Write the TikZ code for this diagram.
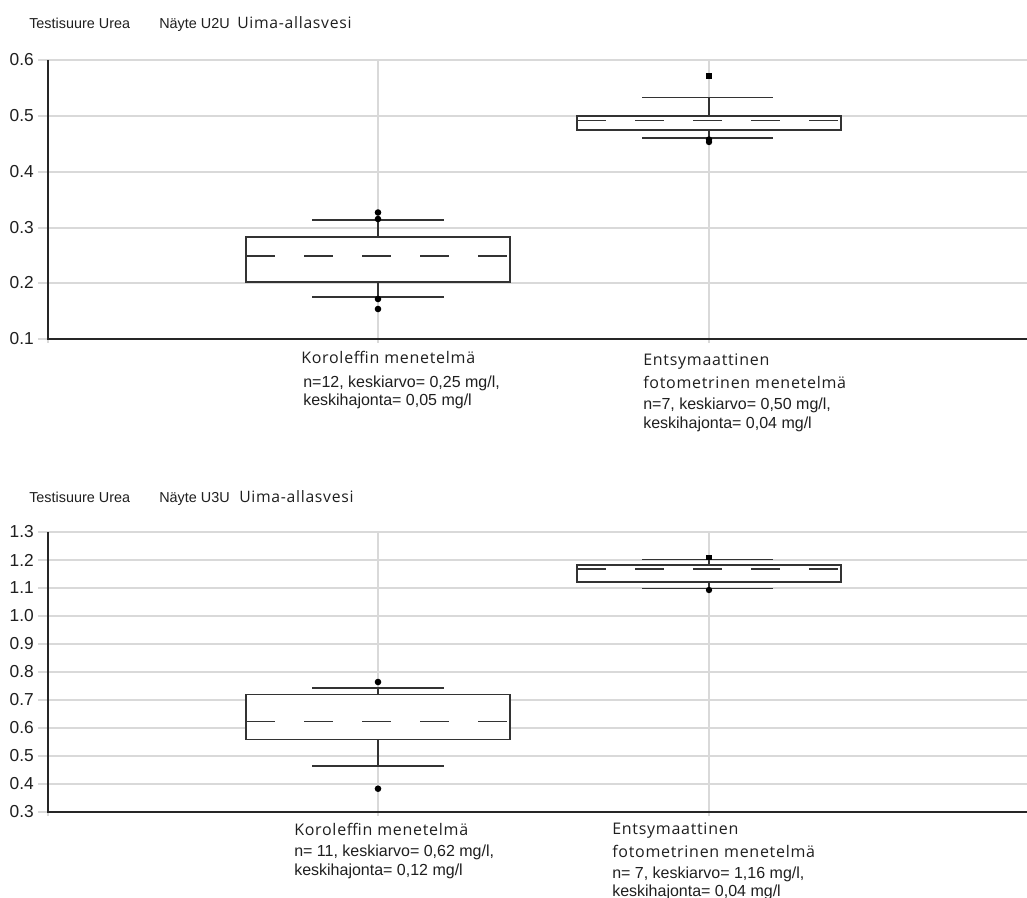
\documentclass[tikz,border=0pt]{standalone}
\usepackage{fontspec}
\setmainfont{Liberation Sans}
\newfontfamily\arialf{Liberation Sans}
\newfontfamily\segoef[LetterSpace=4.5]{Open Sans}
\begin{document}
\begin{tikzpicture}[x=0.75pt,y=-0.75pt,
  grid/.style={draw=black!15,line width=1.1pt},
  axisline/.style={draw=black!85,line width=1.1pt},
  boxline/.style={draw=black!80,line width=1.1pt},
  ticklab/.style={anchor=east,inner sep=0pt,font=\arialf\fontsize{13pt}{13pt}\selectfont,text=black!88},
  titlesmall/.style={anchor=base west,inner sep=0pt,font=\arialf\fontsize{10.8pt}{10.8pt}\selectfont,text=black!88},
  titlebig/.style={anchor=base west,inner sep=0pt,font=\segoef\fontsize{11.8pt}{11.8pt}\selectfont,text=black!88},
  catlab/.style={anchor=base west,inner sep=0pt,font=\segoef\fontsize{12pt}{12pt}\selectfont,text=black!88},
  statlab/.style={anchor=base west,inner sep=0pt,font=\arialf\fontsize{12pt}{12pt}\selectfont,text=black!88},
  med/.style={draw=black!80,line width=1.1pt,dash pattern=on 21.75pt off 21.75pt},
  outl/.style={fill=black,draw=none},
]
\useasboundingbox (0,0) rectangle (1027,897);
\fill[white] (0,0) rectangle (1027,897);

%%%%%%%%%%%% TOP CHART %%%%%%%%%%%%
\node[titlesmall] (t1a) at (29,28) {Testisuure Urea};
\node[titlesmall] (t1b) at (159,28) {Näyte U2U};
\node[titlebig] (t1c) at (237,28) {Uima-allasvesi};

% horizontal grid
\foreach \y/\l in {60/0.6,116/0.5,172/0.4,228/0.3,283/0.2,339/0.1}{
  \draw[grid] (38,\y) -- (1027,\y);
  \node[ticklab] at (34,\y) {\l};
}
% vertical grid
\draw[grid] (48,339) -- (48,343);
\draw[grid] (378,60) -- (378,343);
\draw[grid] (709,60) -- (709,343);
% axes
\draw[axisline] (48,60) -- (48,339) -- (1027,339);

% box 1 Koroleffin
\draw[boxline] (378,237) -- (378,220);
\draw[boxline] (378,282) -- (378,297);
\draw[boxline] (312,220) -- (444,220);
\draw[boxline] (312,297) -- (444,297);
\draw[boxline,fill=white] (246,237) rectangle (510,282);
\draw[med] (246,256) -- (510,256);
\fill[outl] (378,212.5) circle (3.3);
\fill[outl] (378,219) circle (3.3);
\fill[outl] (378,299) circle (3.3);
\fill[outl] (378,309) circle (3.3);

% box 2 Entsymaattinen
\draw[boxline] (709,116) -- (709,97.5);
\draw[boxline] (709,130) -- (709,138);
\draw[boxline] (642,97.5) -- (773,97.5);
\draw[boxline] (642,138) -- (773,138);
\draw[boxline,fill=white] (577,116) rectangle (841,130);
\draw[med] (577,120.7) -- (841,120.7);
\fill[outl] (706.2,73) rectangle (711.8,78.6);
\fill[outl] (709,139.5) circle (3.2);
\fill[outl] (709,142) circle (3.2);

% labels
\node[catlab] (c1) at (301,363) {Koroleffin menetelmä};
\node[statlab] (s1a) at (303,387) {n=12, keskiarvo= 0,25 mg/l,};
\node[statlab] (s1b) at (303,405.5) {keskihajonta= 0,05 mg/l};
\node[catlab] (c2a) at (643,365) {Entsymaattinen};
\node[catlab] (c2b) at (643,388) {fotometrinen menetelmä};
\node[statlab] (s2a) at (643,409) {n=7, keskiarvo= 0,50 mg/l,};
\node[statlab] (s2b) at (643,428) {keskihajonta= 0,04 mg/l};

%%%%%%%%%%%% BOTTOM CHART %%%%%%%%%%%%
\node[titlesmall] (t2a) at (29,502) {Testisuure Urea};
\node[titlesmall] (t2b) at (159,502) {Näyte U3U};
\node[titlebig] (t2c) at (239,502) {Uima-allasvesi};

\foreach \i/\l in {0/1.3,1/1.2,2/1.1,3/1.0,4/0.9,5/0.8,6/0.7,7/0.6,8/0.5,9/0.4,10/0.3}{
  \pgfmathsetmacro{\yy}{532+28*\i}
  \draw[grid] (38,\yy) -- (1027,\yy);
  \node[ticklab] at (34,\yy) {\l};
}
\draw[grid] (48,812) -- (48,816);
\draw[grid] (378,532) -- (378,816);
\draw[grid] (709,532) -- (709,816);
\draw[axisline] (48,532) -- (48,812) -- (1027,812);

% box 1 Koroleffin
\draw[boxline] (378,694.7) -- (378,688);
\draw[boxline] (378,739.7) -- (378,766);
\draw[boxline] (312,688) -- (444,688);
\draw[boxline] (312,766) -- (444,766);
\draw[boxline,fill=white] (246,694.7) rectangle (510,739.7);
\draw[med] (246,721.7) -- (510,721.7);
\fill[outl] (378,682) circle (3.3);
\fill[outl] (378,788.7) circle (3.3);

% box 2 Entsymaattinen
\draw[boxline] (709,565) -- (709,559.7);
\draw[boxline] (709,582) -- (709,588.7);
\draw[boxline] (642,559.7) -- (773,559.7);
\draw[boxline] (642,588.7) -- (773,588.7);
\draw[boxline,fill=white] (577,565) rectangle (841,582);
\draw[med] (577,569) -- (841,569);
\fill[outl] (706.2,554.5) rectangle (711.8,560.1);
\fill[outl] (709,590) circle (3.2);

\node[catlab] (c3) at (294,835) {Koroleffin menetelmä};
\node[statlab] (s3a) at (294,856) {n= 11, keskiarvo= 0,62 mg/l,};
\node[statlab] (s3b) at (294,875) {keskihajonta= 0,12 mg/l};
\node[catlab] (c4a) at (612,834) {Entsymaattinen};
\node[catlab] (c4b) at (612,857) {fotometrinen menetelmä};
\node[statlab] (s4a) at (612,878) {n= 7, keskiarvo= 1,16 mg/l,};
\node[statlab] (s4b) at (612,896) {keskihajonta= 0,04 mg/l};
\end{tikzpicture}
\end{document}
